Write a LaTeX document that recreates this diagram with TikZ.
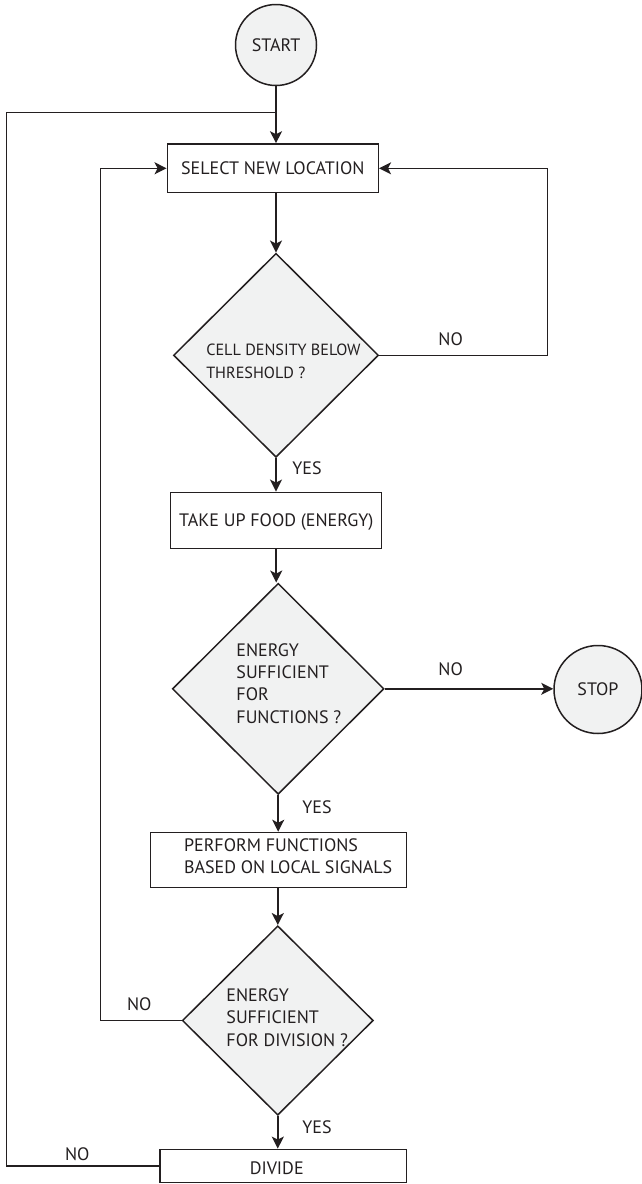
\documentclass[tikz,border=0pt]{standalone}
\usepackage{fontspec}
\setmainfont{PT Sans}
\usetikzlibrary{shapes.geometric,arrows.meta,calc}
\definecolor{ink}{HTML}{231F20}
\definecolor{shade}{HTML}{F1F2F2}
\begin{document}
\begin{tikzpicture}[
  x=1pt, y=-1pt,
  font=\fontsize{18}{22.3}\selectfont,
  line width=1.5pt,
  terminal/.style={circle, draw=ink, fill=shade, inner sep=0pt, text=ink},
  process/.style={rectangle, draw=ink, fill=white, inner sep=0pt, text=ink, text depth=0pt},
  decision/.style={diamond, draw=ink, fill=shade, inner sep=0pt},
  txt/.style={text=ink, inner sep=0pt},
  blocktxt/.style={txt, align=left, anchor=west},
  tag/.style={txt, anchor=base},
  tagw/.style={txt, anchor=base west},
  flow/.style={draw=ink, -{Stealth[length=12pt,width=12pt,inset=3pt]}},
  link/.style={draw=ink}
]
\useasboundingbox (0,0) rectangle (642,1184);

% shapes
\node[terminal, minimum size=81pt] (start) at (276,45) {START};
\node[process, minimum width=211pt, minimum height=48.7pt] (sel) at (272.8,168.3) {SELECT NEW LOCATION};
\node[decision, minimum width=205pt, minimum height=204pt] (d1) at (276,355.3) {};
\node[blocktxt, font=\fontsize{16.2}{22.7}\selectfont] (d1t) at (205.5,361.4) {CELL DENSITY BELOW\\THRESHOLD ?};
\node[process, minimum width=211pt, minimum height=56.4pt] (take) at (276.2,520.5) {TAKE UP FOOD (ENERGY)};
\node[decision, minimum width=211.7pt, minimum height=211pt] (d2) at (278.2,688.8) {};
\node[blocktxt] (d2t) at (235.7,683.3) {ENERGY\\SUFFICIENT\\FOR\\FUNCTIONS ?};
\node[terminal, minimum size=88pt] (stop) at (598,689.5) {STOP};
\node[process, minimum width=256pt, minimum height=55pt] (perf) at (278.7,860) {};
\node[blocktxt] (perft) at (183.3,856.2) {PERFORM FUNCTIONS\\[-1.2pt]BASED ON LOCAL SIGNALS};
\node[decision, minimum width=191pt, minimum height=189.4pt] (d3) at (277.8,1020.5) {};
\node[blocktxt] (d3t) at (225.7,1017.5) {ENERGY\\SUFFICIENT\\FOR DIVISION ?};
\node[process, minimum width=246.7pt, minimum height=33.3pt] (div) at (283.3,1166) {};
\node[tag] (divt) at (276.7,1174.6) {DIVIDE};

% branch labels
\node[tag] (no1) at (450.7,345.6) {NO};
\node[tagw] (yes1) at (291.7,474.3) {YES};
\node[tag] (no2) at (450.7,675.3) {NO};
\node[tagw] (yes2) at (301.7,813) {YES};
\node[tag] (no3) at (139.3,1010.3) {NO};
\node[tagw] (yes3) at (301.7,1133) {YES};
\node[tag] (no4) at (77.3,1160.3) {NO};

% routing columns for the loops
\coordinate (rx) at (547.7,0);
\coordinate (lx) at (100.7,0);
\coordinate (ox) at (6.7,0);
\coordinate (join) at (276,112.7);

% main column
\draw[flow] (start.south) -- (start.south |- sel.north);
\draw[flow] (d1.north |- sel.south) -- (d1.north);
\draw[flow] (d1.south) -- (d1.south |- take.north);
\draw[flow] (take.south) -- (take.south |- d2.north);
\draw[flow] (d2.south) -- (d2.south |- perf.north);
\draw[flow] (d3.north |- perf.south) -- (d3.north);
\draw[flow] (d3.south) -- (d3.south |- div.north);

% side branches
\draw[flow] (d1.east) -| (rx |- sel.east) -- (sel.east);
\draw[flow] (d2.east) -- (d2.east -| stop.west);
\draw[flow] (d3.west) -| (lx |- sel.west) -- (sel.west);
\draw[link] (div.west) -| (ox |- join) -- (join);
\end{tikzpicture}
\end{document}
